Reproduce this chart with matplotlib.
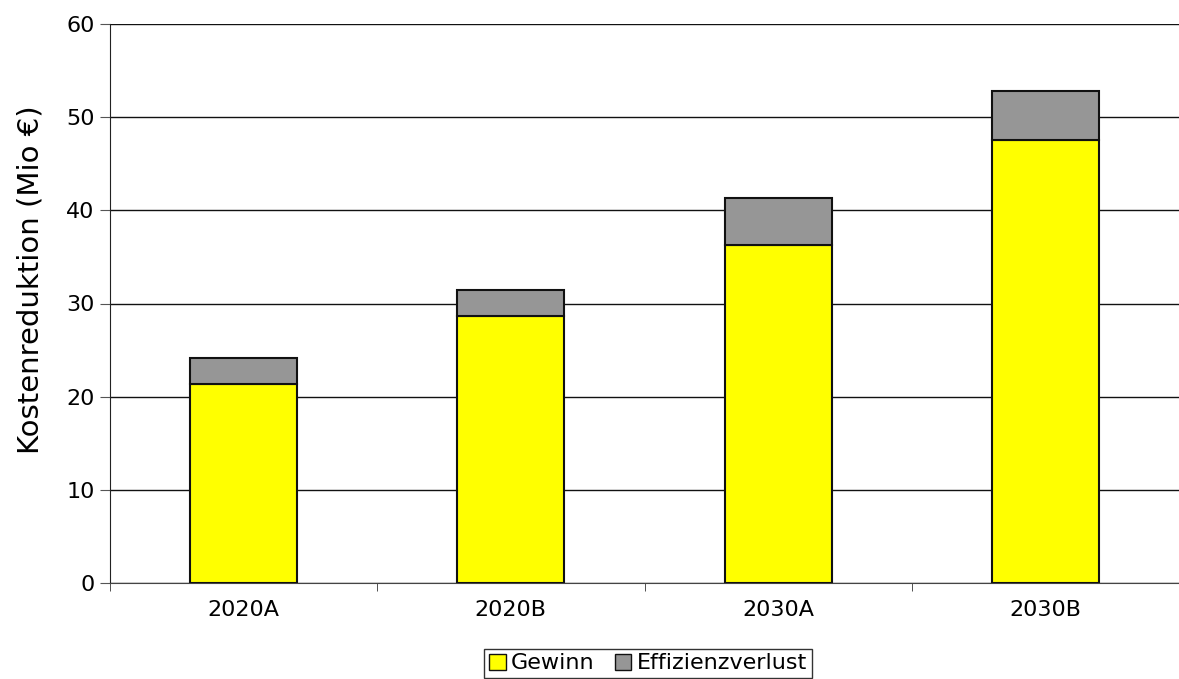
import matplotlib
matplotlib.use("Agg")
import matplotlib.pyplot as plt
import numpy as np
from matplotlib.patches import Patch

categories = ["2020A", "2020B", "2030A", "2030B"]
gewinn = [21.4, 28.7, 36.3, 47.6]
effizienzverlust = [2.7, 2.7, 5.0, 5.2]
yticks = [0, 10, 20, 30, 40, 50, 60]

plt.rcParams['font.family'] = ['DejaVu Sans']

fig = plt.figure(figsize=(11.79, 6.79), dpi=100)
ax = fig.add_axes([110/1179, 1 - 583/679, 1 - 110/1179, 559/679])

x = np.arange(len(categories))
w = 0.4
ax.bar(x, gewinn, w, color="#ffff00", edgecolor="#111111", linewidth=1.5, label="Gewinn", zorder=3)
ax.bar(x, effizienzverlust, w, bottom=gewinn, color="#969696", edgecolor="#111111", linewidth=1.5,
       label="Effizienzverlust", zorder=3)

ax.set_xlim(-0.5, len(categories) - 0.5)
ax.set_ylim(0, 60)
ax.set_yticks(yticks)
ax.set_yticklabels([str(v) for v in yticks], fontsize=16)
ax.yaxis.grid(True, color="#111111", linewidth=1.0, zorder=0)
ax.set_axisbelow(True)

ax.set_xticks(x)
ax.set_xticklabels(categories, fontsize=16)
ax.tick_params(axis='x', which='major', length=0, pad=12)
ax.set_xticks(np.arange(len(categories) + 1) - 0.5, minor=True)
ax.tick_params(axis='x', which='minor', length=6, color="#333333", direction='out')
ax.tick_params(axis='y', length=7, color="#555555", pad=4)

for s in ['top', 'right']:
    ax.spines[s].set_visible(False)
ax.spines['left'].set_color("#222222")
ax.spines['bottom'].set_color("#444444")

ax.set_ylabel("Kostenreduktion (Mio €)", fontsize=21)
ax.yaxis.set_label_coords(-0.061, 0.542)

handles = [Patch(facecolor="#ffff00", edgecolor="#111111", label="Gewinn"),
           Patch(facecolor="#969696", edgecolor="#111111", label="Effizienzverlust")]
leg = fig.legend(handles=handles, loc='upper center', bbox_to_anchor=(648/1179, 1 - 649/679), ncol=2,
                 fontsize=16, frameon=True, fancybox=False, edgecolor="#000000",
                 handlelength=0.75, handleheight=0.75, handletextpad=0.25, columnspacing=0.9,
                 borderpad=0.2, borderaxespad=0)
leg.get_frame().set_linewidth(1.0)

fig.savefig("out.png", dpi=100)
